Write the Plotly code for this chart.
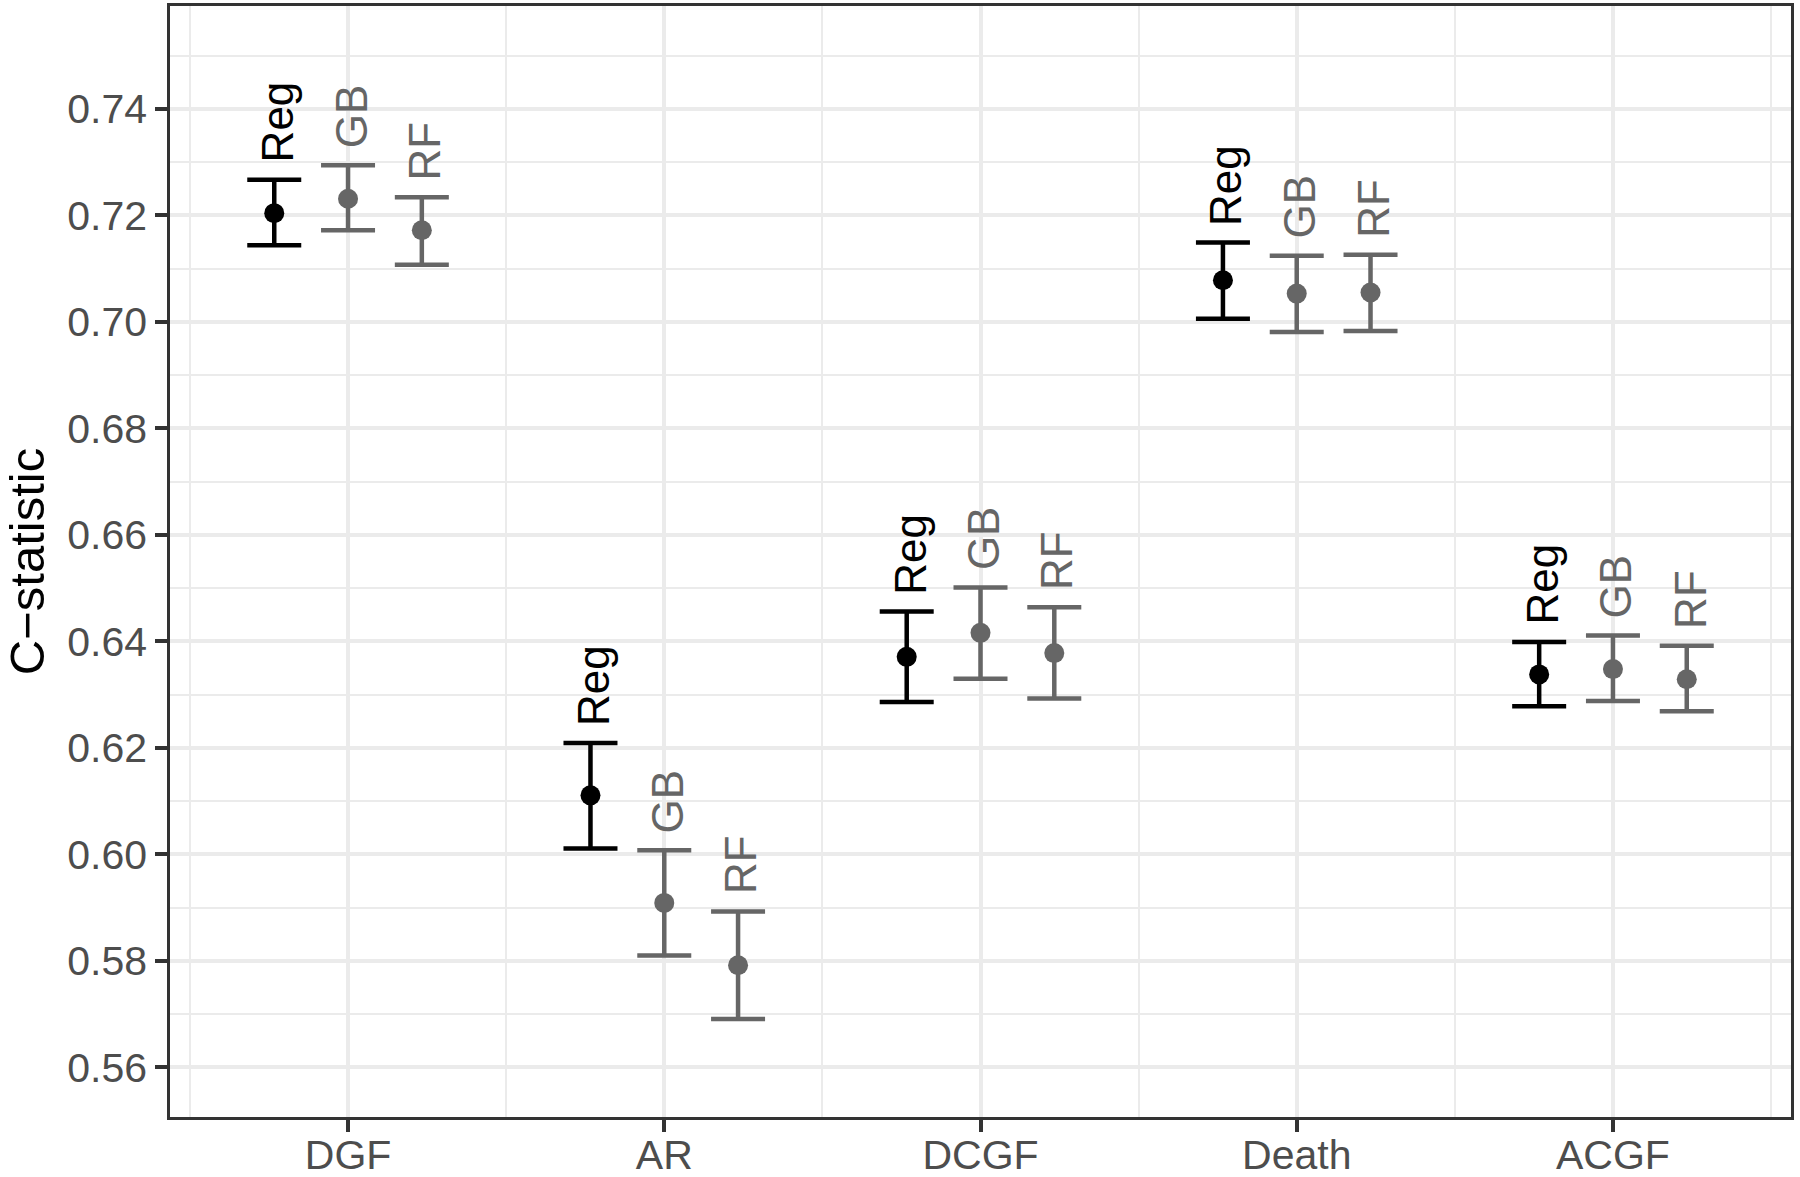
import plotly.graph_objects as go

categories = ["DGF", "AR", "DCGF", "Death", "ACGF"]
models = ["Reg", "GB", "RF"]

# point estimates and 95% CI (lower, upper) per model, in category order
reg_est = [0.7204, 0.6111, 0.6371, 0.7078, 0.6338]
reg_lo = [0.7144, 0.6011, 0.6286, 0.7006, 0.6278]
reg_hi = [0.7267, 0.6209, 0.6456, 0.7149, 0.6399]

gb_est = [0.7231, 0.5909, 0.6416, 0.7053, 0.6348]
gb_lo = [0.7172, 0.5810, 0.6330, 0.6981, 0.6288]
gb_hi = [0.7294, 0.6008, 0.6501, 0.7124, 0.6411]

rf_est = [0.7172, 0.5792, 0.6378, 0.7055, 0.6329]
rf_lo = [0.7107, 0.5691, 0.6293, 0.6983, 0.6269]
rf_hi = [0.7234, 0.5893, 0.6464, 0.7126, 0.6392]

y_ticks = [0.56, 0.58, 0.60, 0.62, 0.64, 0.66, 0.68, 0.70, 0.72, 0.74]

series = {
    "Reg": (reg_est, reg_lo, reg_hi, "#000000"),
    "GB": (gb_est, gb_lo, gb_hi, "#666666"),
    "RF": (rf_est, rf_lo, rf_hi, "#666666"),
}

dodge = 0.7
n = len(models)
FONT = "Liberation Sans, Arial, Helvetica, sans-serif"

fig = go.Figure()
annotations = []
for k, m in enumerate(models):
    est, lo, hi, col = series[m]
    off = (k - (n - 1) / 2) * dodge / n
    xs = [i + 1 + off for i in range(len(categories))]
    fig.add_trace(go.Scatter(
        x=xs, y=est, mode="markers", name=m,
        marker=dict(color=col, size=20),
        error_y=dict(type="data", symmetric=False,
                     array=[h - e for h, e in zip(hi, est)],
                     arrayminus=[e - l for e, l in zip(est, lo)],
                     color=col, thickness=4.5, width=27),
        showlegend=False,
    ))
    for x, h in zip(xs, hi):
        annotations.append(dict(
            x=x, y=h, xref="x", yref="y", text=m, showarrow=False,
            textangle=-90, xanchor="center", yanchor="bottom", yshift=15, xshift=3,
            font=dict(family=FONT, size=44, color=col),
        ))

grid_major = "#EBEBEB"
fig.update_layout(
    width=1800, height=1177,
    margin=dict(l=170, r=9, t=6, b=60, autoexpand=False),
    paper_bgcolor="white", plot_bgcolor="white",
    font=dict(family=FONT),
    annotations=annotations,
    xaxis=dict(
        range=[0.437, 5.563], automargin=False,
        tickmode="array", tickvals=[1, 2, 3, 4, 5], ticktext=categories,
        showgrid=True, gridcolor=grid_major, gridwidth=4,
        minor=dict(tickmode="array", tickvals=[0.5, 1.5, 2.5, 3.5, 4.5, 5.5],
                   showgrid=True, gridcolor=grid_major, gridwidth=2, ticklen=0),
        ticks="outside", ticklen=12, tickwidth=3.5, tickcolor="#333333",
        ticklabelstandoff=-12,
        tickfont=dict(family=FONT, size=41, color="#4D4D4D"),
        showline=True, linecolor="#333333", linewidth=2.5, mirror=True,
        zeroline=False,
    ),
    yaxis=dict(
        range=[0.5507, 0.7593], automargin=False,
        tickmode="array", tickvals=y_ticks,
        ticktext=[f"{v:.2f}" for v in y_ticks],
        showgrid=True, gridcolor=grid_major, gridwidth=4,
        minor=dict(dtick=0.01, tick0=0.55, showgrid=True, gridcolor=grid_major,
                   gridwidth=2, ticklen=0),
        ticks="outside", ticklen=12, tickwidth=3.5, tickcolor="#333333",
        tickfont=dict(family=FONT, size=41, color="#4D4D4D"),
        title=dict(text="C\u2212statistic", font=dict(family=FONT, size=49, color="black"),
                   standoff=14),
        showline=True, linecolor="#333333", linewidth=2.5, mirror=True,
        zeroline=False,
    ),
)

fig.write_html("out.html",
               config={"displayModeBar": False},
               post_script="document.body.style.margin='0';document.body.style.padding='0';")
